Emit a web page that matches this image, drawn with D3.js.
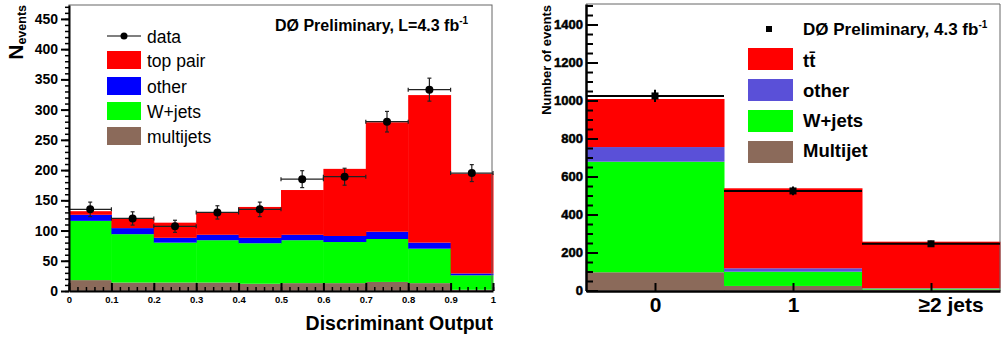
<html>
<head>
<meta charset="UTF-8">
<title>top pair discriminant</title>
<style>
  body { margin: 0; background: #fff; }
  text { font-family: "Liberation Sans", Arial, sans-serif; }
</style>
</head>
<body>
<script src="https://cdnjs.cloudflare.com/ajax/libs/d3/7.8.5/d3.min.js"></script>
<script>
// left panel: discriminant output, 10 bins
var binLow  = [0, 0.1, 0.2, 0.3, 0.4, 0.5, 0.6, 0.7, 0.8, 0.9];
var binHigh = [0.1, 0.2, 0.3, 0.4, 0.5, 0.6, 0.7, 0.8, 0.9, 1];
var multijets = [18, 14, 14, 14, 12, 13, 13, 15, 13, 2];
var wjets     = [98, 80, 66, 70, 67, 71, 68, 71, 57, 24];
var other     = [10, 10, 8, 9, 9, 9, 10, 12, 10, 3];
var toppair   = [6, 16, 25, 37, 51, 74, 111, 181, 244, 165];
var data      = [135, 120, 107, 130, 135, 185, 189, 280, 333, 195];
var dataErr   = [12, 11, 10, 11, 12, 14, 14, 17, 19, 14];
var leftYTicks = [0, 50, 100, 150, 200, 250, 300, 350, 400, 450];
var leftXTicks = [0, 0.1, 0.2, 0.3, 0.4, 0.5, 0.6, 0.7, 0.8, 0.9, 1];

// right panel: jet multiplicity
var jetBins   = [0, 1, 2];
var jetLabels = ["0", "1", "\u22652 jets"];
var jMultijet = [96, 24, 5];
var jWjets    = [582, 75, 5];
var jOther    = [77, 18, 2];
var jTtbar    = [253, 421, 245];
var jData     = [1024, 524, 246];
var jDataErr  = [32, 23, 16];
var rightYTicks = [0, 200, 400, 600, 800, 1000, 1200, 1400];

var FONT = "Liberation Sans, Arial, sans-serif";
var svg = d3.select("body").append("svg").attr("width", 1001).attr("height", 337);

// ---------- left ----------
var x1 = d3.scaleLinear().domain([0, 1]).range([69, 493]);
var y1 = d3.scaleLinear().domain([0, 473]).range([291, 5]);

var leftRows = binLow.map(function(d, i){
    return {lo: d, hi: binHigh[i], multijets: multijets[i], wjets: wjets[i], other: other[i], toppair: toppair[i]};
});
var leftKeys = ["multijets", "wjets", "other", "toppair"];
var leftColors = {multijets: "#8b6a5a", wjets: "#00ff00", other: "#0000ff", toppair: "#ff0000"};
var leftStack = d3.stack().keys(leftKeys)(leftRows);

svg.append("g").selectAll("g").data(leftStack).enter().append("g")
    .attr("fill", function(s){ return leftColors[s.key]; })
    .selectAll("rect").data(function(s){ return s; }).enter().append("rect")
    .attr("x", function(d){ return x1(d.data.lo); })
    .attr("width", function(d){ return x1(d.data.hi) - x1(d.data.lo) + 0.5; })
    .attr("y", function(d){ return y1(d[1]); })
    .attr("height", function(d){ return y1(d[0]) - y1(d[1]); });

// frame
svg.append("rect").attr("x", 69).attr("y", 5).attr("width", 423).attr("height", 286)
    .attr("fill", "none").attr("stroke", "#666").attr("stroke-width", 1);

// data points
var pts = svg.append("g");
data.forEach(function(v, i){
    var cx = (x1(binLow[i]) + x1(binHigh[i])) / 2, cy = y1(v);
    var g = pts.append("g").attr("stroke", "#222").attr("stroke-width", 1.2);
    g.append("line").attr("x1", x1(binLow[i])).attr("x2", x1(binHigh[i])).attr("y1", cy).attr("y2", cy);
    g.append("line").attr("x1", x1(binLow[i])).attr("x2", x1(binLow[i])).attr("y1", cy - 2).attr("y2", cy + 2);
    g.append("line").attr("x1", x1(binHigh[i])).attr("x2", x1(binHigh[i])).attr("y1", cy - 2).attr("y2", cy + 2);
    g.append("line").attr("x1", cx).attr("x2", cx).attr("y1", y1(v + dataErr[i])).attr("y2", y1(v - dataErr[i]));
    g.append("line").attr("x1", cx - 2).attr("x2", cx + 2).attr("y1", y1(v + dataErr[i])).attr("y2", y1(v + dataErr[i]));
    g.append("line").attr("x1", cx - 2).attr("x2", cx + 2).attr("y1", y1(v - dataErr[i])).attr("y2", y1(v - dataErr[i]));
    g.append("circle").attr("cx", cx).attr("cy", cy).attr("r", 4).attr("fill", "#000").attr("stroke", "none");
});

// axes
var minorY1 = d3.range(0, 471, 10);
svg.append("g").attr("transform", "translate(69,0)")
    .call(d3.axisLeft(y1).tickValues(minorY1).tickSize(4).tickFormat(""))
    .call(function(g){ g.select(".domain").remove(); g.selectAll("line").attr("stroke-width", 1.5); });
svg.append("g").attr("transform", "translate(69,0)")
    .call(d3.axisLeft(y1).tickValues(leftYTicks).tickSizeInner(8).tickSizeOuter(0).tickPadding(3))
    .call(function(g){
        g.select(".domain").attr("stroke-width", 2);
        g.selectAll("line").attr("stroke-width", 2);
        g.selectAll("text").attr("font-size", 14).attr("font-weight", "bold").attr("font-family", FONT);
    });

var minorX1 = d3.range(0, 1.001, 0.02);
svg.append("g").attr("transform", "translate(0,291)")
    .call(d3.axisBottom(x1).tickValues(minorX1).tickSizeInner(-4).tickSizeOuter(0).tickFormat(""))
    .call(function(g){ g.select(".domain").remove(); g.selectAll("line").attr("stroke-width", 1.5); });
svg.append("g").attr("transform", "translate(0,291)")
    .call(d3.axisBottom(x1).tickValues(leftXTicks).tickSizeInner(-8).tickSizeOuter(0).tickPadding(5)
        .tickFormat(function(d){ return String(+d.toFixed(1)); }))
    .call(function(g){
        g.select(".domain").attr("stroke-width", 2);
        g.selectAll("line").attr("stroke-width", 2);
        g.selectAll("text").attr("font-size", 9.5).attr("font-weight", "bold").attr("font-family", FONT);
    });

// titles
var yl = svg.append("text").attr("transform", "translate(23,5) rotate(-90)")
    .attr("text-anchor", "end").attr("font-weight", "bold");
yl.append("tspan").attr("font-size", 21).text("N");
yl.append("tspan").attr("font-size", 12.5).attr("dy", 3).text("events");

svg.append("text").attr("x", 493).attr("y", 330).attr("text-anchor", "end")
    .attr("font-size", 19.5).attr("font-weight", "bold").text("Discriminant Output");

var t1 = svg.append("text").attr("x", 275).attr("y", 31).attr("font-size", 16).attr("font-weight", "bold");
t1.append("tspan").text("D\u00d8 Preliminary, L=4.3 fb");
t1.append("tspan").attr("font-size", 10).attr("dy", -7).text("-1");

// legend
var leg = svg.append("g");
leg.append("line").attr("x1", 107).attr("x2", 141).attr("y1", 36).attr("y2", 36).attr("stroke", "#000").attr("stroke-width", 1.2);
leg.append("circle").attr("cx", 124).attr("cy", 36).attr("r", 3.5);
leg.append("text").attr("x", 147).attr("y", 43).attr("font-size", 17.5).text("data");
var legItems = [["toppair", "top pair", 51], ["other", "other", 77], ["wjets", "W+jets", 102], ["multijets", "multijets", 127]];
legItems.forEach(function(d){
    leg.append("rect").attr("x", 107).attr("y", d[2]).attr("width", 34).attr("height", 18).attr("fill", leftColors[d[0]]);
    leg.append("text").attr("x", 147).attr("y", d[2] + 16).attr("font-size", 17.5).text(d[1]);
});

// ---------- right ----------
var x2 = d3.scaleLinear().domain([-0.5, 2.5]).range([586, 1000]);
var y2 = d3.scaleLinear().domain([0, 1508]).range([290.5, 4]);

var rightRows = jetBins.map(function(b, i){
    return {bin: b, multijet: jMultijet[i], wjets: jWjets[i], other: jOther[i], ttbar: jTtbar[i]};
});
var rightKeys = ["multijet", "wjets", "other", "ttbar"];
var rightColors = {multijet: "#8b6a5a", wjets: "#00ff00", other: "#5a50d8", ttbar: "#ff0000"};
var rightStack = d3.stack().keys(rightKeys)(rightRows);

svg.append("g").selectAll("g").data(rightStack).enter().append("g")
    .attr("fill", function(s){ return rightColors[s.key]; })
    .selectAll("rect").data(function(s){ return s; }).enter().append("rect")
    .attr("x", function(d){ return x2(d.data.bin - 0.5); })
    .attr("width", function(d){ return x2(d.data.bin + 0.5) - x2(d.data.bin - 0.5) + 0.5; })
    .attr("y", function(d){ return y2(d[1]); })
    .attr("height", function(d){ return y2(d[0]) - y2(d[1]); });

svg.append("line").attr("x1", 586).attr("x2", 1000).attr("y1", 4).attr("y2", 4).attr("stroke", "#666");
svg.append("line").attr("x1", 1000).attr("x2", 1000).attr("y1", 4).attr("y2", 291).attr("stroke", "#666");

var pts2 = svg.append("g");
jData.forEach(function(v, i){
    var cx = x2(jetBins[i]), cy = y2(v);
    pts2.append("line").attr("x1", x2(jetBins[i] - 0.5)).attr("x2", x2(jetBins[i] + 0.5))
        .attr("y1", cy).attr("y2", cy).attr("stroke", "#000").attr("stroke-width", 2);
    pts2.append("line").attr("x1", cx).attr("x2", cx).attr("y1", y2(v + jDataErr[i])).attr("y2", y2(v - jDataErr[i]))
        .attr("stroke", "#000").attr("stroke-width", 2);
    pts2.append("rect").attr("x", cx - 3.5).attr("y", cy - 3.5).attr("width", 7).attr("height", 7).attr("fill", "#000");
});

var minorY2 = d3.range(0, 1501, 50);
svg.append("g").attr("transform", "translate(586,0)")
    .call(d3.axisLeft(y2).tickValues(minorY2).tickSizeInner(-7).tickSizeOuter(0).tickFormat(""))
    .call(function(g){ g.select(".domain").remove(); g.selectAll("line").attr("stroke-width", 2); });
svg.append("g").attr("transform", "translate(586,0)")
    .call(d3.axisLeft(y2).tickValues(rightYTicks).tickSizeInner(-12).tickSizeOuter(0).tickPadding(3)
        .tickFormat(d3.format("d")))
    .call(function(g){
        g.select(".domain").attr("stroke-width", 2.5);
        g.selectAll("line").attr("stroke-width", 2);
        g.selectAll("text").attr("font-size", 13).attr("font-weight", "bold").attr("font-family", FONT)
            .attr("stroke", "#000").attr("stroke-width", 0.5);
    });
svg.append("g").attr("transform", "translate(0,291)")
    .call(d3.axisBottom(x2).tickValues(jetBins).tickSizeInner(-8).tickSizeOuter(0).tickPadding(6)
        .tickFormat(function(d, i){ return jetLabels[i]; }))
    .call(function(g){
        g.select(".domain").attr("stroke-width", 2.5);
        g.selectAll("line").attr("stroke-width", 2);
        g.selectAll("text").attr("font-size", 21).attr("font-weight", "bold").attr("font-family", FONT)
            .attr("text-anchor", function(d, i){ return i == 2 ? "start" : "middle"; })
            .attr("dx", function(d, i){ return i == 2 ? -13 : 0; });
    });

svg.append("text").attr("transform", "translate(551,5) rotate(-90)").attr("text-anchor", "end")
    .attr("font-size", 13).attr("font-weight", "bold").text("Number of events");

// right legend
var leg2 = svg.append("g");
leg2.append("rect").attr("x", 766).attr("y", 26).attr("width", 6).attr("height", 6).attr("fill", "#000");
var t2 = leg2.append("text").attr("x", 803).attr("y", 35).attr("font-size", 17).attr("font-weight", "bold");
t2.append("tspan").text("D\u00d8 Preliminary, 4.3 fb");
t2.append("tspan").attr("font-size", 10).attr("dy", -7).text("-1");
var leg2Items = [["ttbar", "tt\u0304", 48, 66.5], ["other", "other", 79, 96.5], ["wjets", "W+jets", 110, 126.5], ["multijet", "Multijet", 141, 156.5]];
leg2Items.forEach(function(d){
    leg2.append("rect").attr("x", 748).attr("y", d[2]).attr("width", 45).attr("height", 22).attr("fill", rightColors[d[0]]);
    leg2.append("text").attr("x", 803).attr("y", d[3]).attr("font-size", 18.5).attr("font-weight", "bold").text(d[1]);
});
</script>
</body>
</html>
